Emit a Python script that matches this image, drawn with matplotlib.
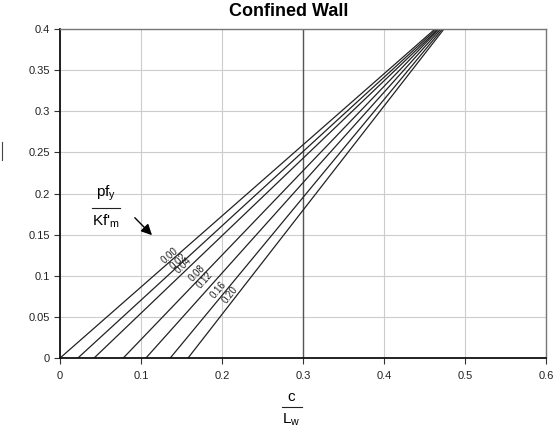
import matplotlib
matplotlib.use('Agg')
from matplotlib import pyplot, rc
from matplotlib.lines import Line2D

rc('font', family=['Liberation Sans', 'DejaVu Sans'], size=8)
rc('mathtext', default='regular')

# ratio labels and the lines
ratios = ['0.00', '0.02', '0.04', '0.08', '0.12', '0.16', '0.20']
x_start = [0.0, 0.022, 0.042, 0.078, 0.106, 0.136, 0.158]
x_end = [0.463, 0.465, 0.467, 0.468, 0.470, 0.472, 0.474]
y_start = [0.0] * 7
y_end = [0.4] * 7

# label anchor positions and text angles
label_x = [0.136, 0.146, 0.152, 0.169, 0.179, 0.195, 0.210]
label_y = [0.125, 0.118, 0.113, 0.103, 0.095, 0.083, 0.077]
label_rot = [41, 43, 44, 46, 48, 50, 52]

xticks = [0, 0.1, 0.2, 0.3, 0.4, 0.5, 0.6]
yticks = [0, 0.05, 0.1, 0.15, 0.2, 0.25, 0.3, 0.35, 0.4]

figure = pyplot.figure(figsize=(5.55, 4.32), dpi=100)
plot = figure.add_axes([0.108, 0.171, 0.876, 0.762])

for xs, xe, ys, ye in zip(x_start, x_end, y_start, y_end):
    plot.plot([xs, xe], [ys, ye], color='#222222', lw=0.9)

for t, lx, ly, r in zip(ratios, label_x, label_y, label_rot):
    plot.text(lx, ly, t, rotation=r, fontsize=7, ha='center', va='center',
              rotation_mode='anchor', color='#222222')

plot.axvline(0.3, color='#555555', lw=1.0, zorder=1)

plot.set_xlim(0, 0.6)
plot.set_ylim(0, 0.4)
plot.set_xticks(xticks)
plot.set_xticklabels(['0', '0.1', '0.2', '0.3', '0.4', '0.5', '0.6'])
plot.set_yticks(yticks)
plot.set_yticklabels(['0', '0.05', '0.1', '0.15', '0.2', '0.25', '0.3', '0.35', '0.4'])
plot.grid(True, color='#cccccc', lw=0.8)
plot.set_axisbelow(True)
plot.tick_params(direction='out', length=4, width=0.8, color='#333333',
                 labelcolor='#222222')
plot.tick_params(axis='x', pad=5)
plot.tick_params(axis='y', pad=3)

for side in ['left', 'bottom']:
    plot.spines[side].set_color('#111111')
    plot.spines[side].set_linewidth(1.3)
for side in ['top', 'right']:
    plot.spines[side].set_color('#777777')
    plot.spines[side].set_linewidth(1.0)

figure.text(289 / 555, 1 - 11 / 432, 'Confined Wall', fontsize=13,
            fontweight='bold', ha='center', va='center')

# legend-like fraction and arrow
plot.text(0.0565, 0.200, 'pf$_y$', fontsize=11, ha='center', va='center')
plot.plot([0.039, 0.074], [0.183, 0.183], color='#222222', lw=0.8, clip_on=False)
plot.text(0.0565, 0.166, "Kf$'_m$", fontsize=11, ha='center', va='center')
plot.annotate('', xy=(0.116, 0.147), xytext=(0.090, 0.173),
              arrowprops=dict(arrowstyle='-|>', color='black', lw=1.0,
                              mutation_scale=16))

# x label as a fraction
figure.text(291 / 555, 1 - 397 / 432, 'c', fontsize=11, ha='center', va='center')
figure.add_artist(Line2D([282 / 555, 302 / 555], [1 - 407 / 432, 1 - 407 / 432],
                         color='#222222', lw=0.8))
figure.text(291 / 555, 1 - 420 / 432, 'L$_w$', fontsize=11, ha='center', va='center')

# y label fraction bar, the rest is cut off at the left edge
figure.add_artist(Line2D([2 / 555, 2 / 555], [1 - 142 / 432, 1 - 160 / 432],
                         color='#444444', lw=0.8))

figure.savefig('out.png', dpi=100)
